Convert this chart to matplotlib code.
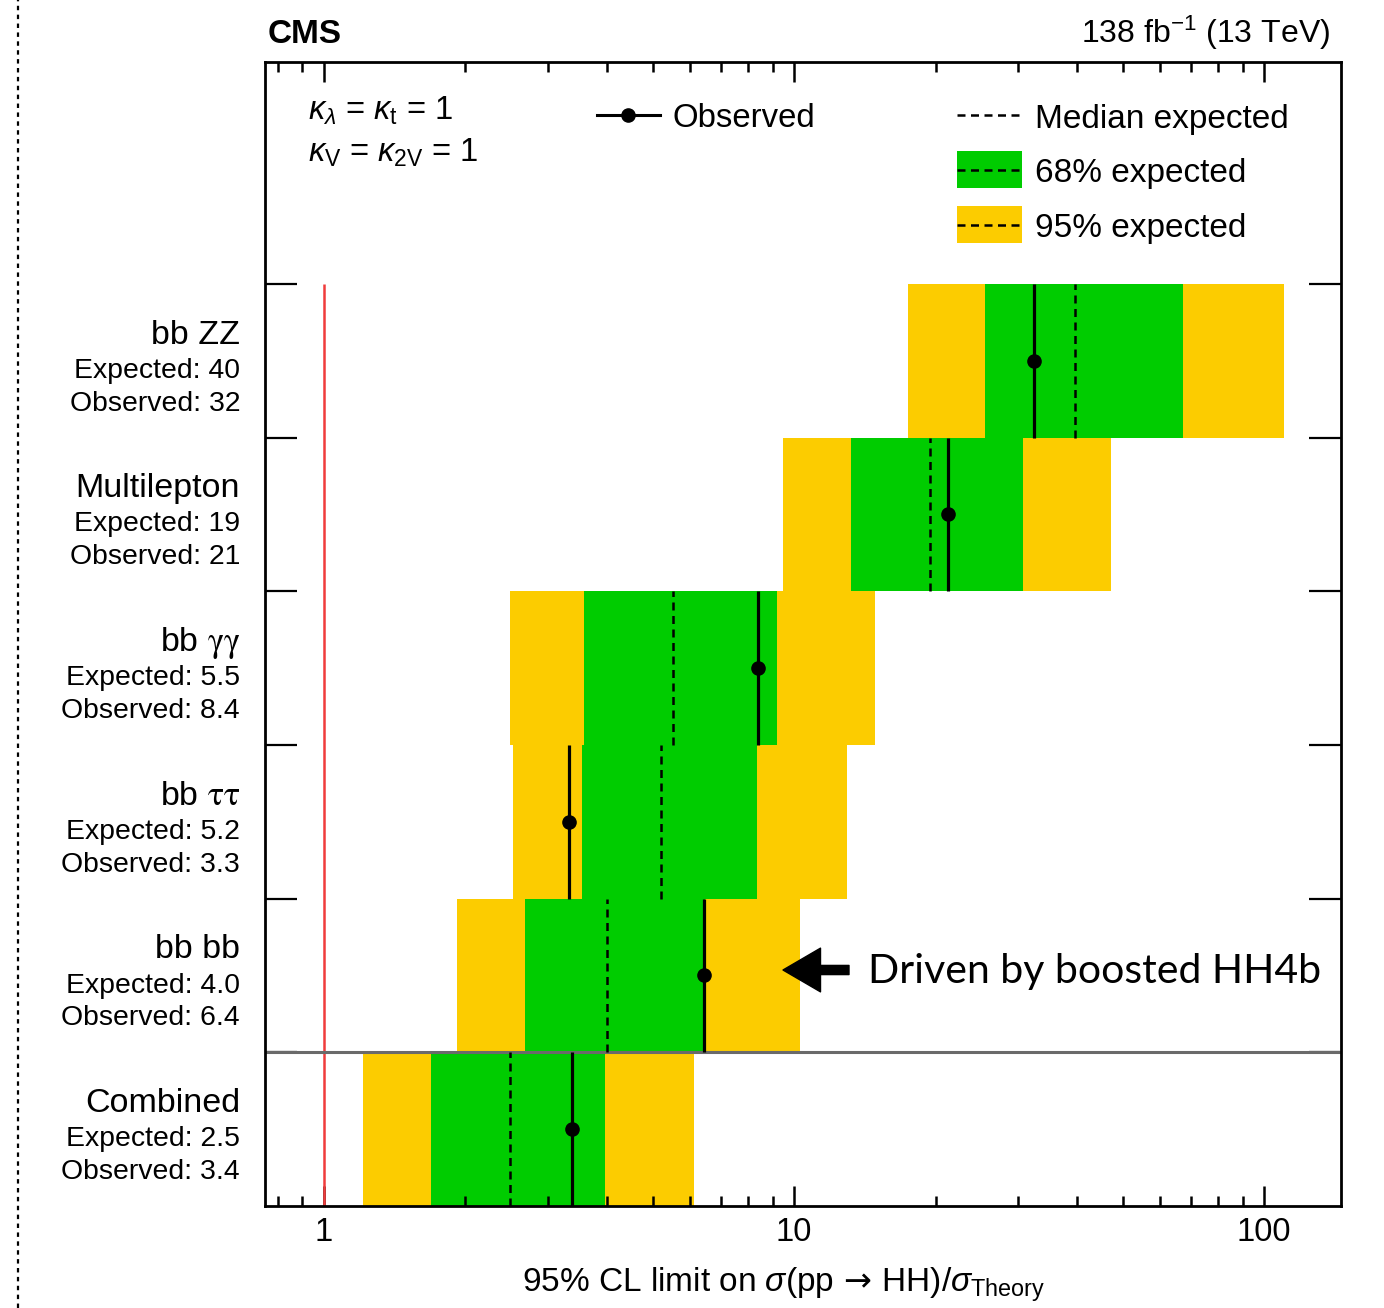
import numpy as np
import matplotlib
matplotlib.use('Agg')
import matplotlib.pyplot as plt
from matplotlib.lines import Line2D
from matplotlib.patches import Rectangle
from matplotlib.ticker import LogLocator, NullFormatter, FixedLocator, FixedFormatter

plt.rcParams['font.family'] = ['Liberation Sans', 'DejaVu Sans']
plt.rcParams['mathtext.fontset'] = 'custom'
plt.rcParams['mathtext.rm'] = 'Liberation Sans'
plt.rcParams['mathtext.it'] = 'Liberation Sans:italic'
plt.rcParams['mathtext.bf'] = 'Liberation Sans:bold'
plt.rcParams['mathtext.sf'] = 'DejaVu Sans'

# ---- data (bottom row first) ----
channels = ['Combined', 'bb bb', r'bb $\mathrm{\tau\tau}$', r'bb $\mathrm{\gamma\gamma}$', 'Multilepton', 'bb ZZ']
exp_median = [2.49, 4.00, 5.21, 5.53, 19.5, 39.6]
observed = [3.37, 6.43, 3.32, 8.38, 21.3, 32.4]
band68_lo = [1.69, 2.68, 3.54, 3.57, 13.2, 25.5]
band68_hi = [3.96, 6.47, 8.34, 9.20, 30.7, 67.2]
band95_lo = [1.21, 1.92, 2.52, 2.49, 9.48, 17.5]
band95_hi = [6.13, 10.3, 12.97, 14.9, 47.2, 110.3]
exp_labels = ['2.5', '4.0', '5.2', '5.5', '19', '40']
obs_labels = ['3.4', '6.4', '3.3', '8.4', '21', '32']
xtick_vals = [1, 10, 100]
xtick_labels = ['1', '10', '100']

GREEN = '#00CC00'
YELLOW = '#FCCC00'

W, H = 1384, 1308
fig = plt.figure(figsize=(W / 100, H / 100), dpi=100)
ax = fig.add_axes([265 / W, 1 - 1206 / H, (1341 - 265) / W, (1206 - 62) / H])
ax.set_xscale('log')
ax.set_xlim(0.749, 145.8)
ax.set_ylim(0, 7.444)

n = len(channels)
rows = np.arange(n)
lo95 = np.array(band95_lo); hi95 = np.array(band95_hi)
lo68 = np.array(band68_lo); hi68 = np.array(band68_hi)
ax.barh(rows + 0.5, hi95 - lo95, left=lo95, height=1.0, color=YELLOW, linewidth=0, zorder=1)
ax.barh(rows + 0.5, hi68 - lo68, left=lo68, height=1.0, color=GREEN, linewidth=0, zorder=1.1)
ax.vlines(exp_median, rows, rows + 1, colors='black', linestyles=(0, (3.2, 2.2)), linewidth=1.8, zorder=3)
ax.vlines(observed, rows, rows + 1, colors='black', linewidth=2.3, zorder=3)
ax.plot(observed, rows + 0.5, 'o', color='black', markersize=9.5, zorder=4, linestyle='none')

# reference line at 1 and separator
ax.vlines(1, 0, n, colors='#F03C3C', linewidth=1.8, zorder=2)
ax.axhline(1, color='#6A6A6A', linewidth=2.2, zorder=2)

# ticks
ax.xaxis.set_major_locator(FixedLocator(xtick_vals))
ax.xaxis.set_major_formatter(FixedFormatter(xtick_labels))
ax.xaxis.set_minor_locator(LogLocator(base=10, subs=np.arange(2, 10)))
ax.xaxis.set_minor_formatter(NullFormatter())
ax.tick_params(axis='x', which='major', direction='in', top=True, bottom=True,
               length=14.5, width=1.8, labelsize=23.5, pad=8)
ax.tick_params(axis='x', which='minor', direction='in', top=True, bottom=True,
               length=7.2, width=1.8)
ax.set_yticks(np.arange(1, n + 1))
ax.set_yticklabels([])
ax.tick_params(axis='y', which='major', direction='in', left=True, right=True,
               length=23, width=1.6)
ax.tick_params(axis='y', which='minor', left=False, right=False)
for s in ax.spines.values():
    s.set_linewidth(2.0)

# left labels
ytr = ax.get_yaxis_transform()
for i in range(n):
    c = i + 0.5
    ax.text(-0.0232, c + 0.111, channels[i], transform=ytr, ha='right', va='baseline',
            fontsize=24.5, math_fontfamily='stix')
    ax.text(-0.0232, c - 0.111, 'Expected: ' + exp_labels[i], transform=ytr, ha='right',
            va='baseline', fontsize=20.4)
    ax.text(-0.0232, c - 0.325, 'Observed: ' + obs_labels[i], transform=ytr, ha='right',
            va='baseline', fontsize=20.4)

# x label
fig.text(784 / W, 1 - 1292 / H,
         r'95% CL limit on $\sigma$(pp$\,\mathsf{\rightarrow}\,$HH)/$\sigma_{\mathrm{Theory}}$',
         ha='center', va='baseline', fontsize=24)

# top labels
fig.text(268 / W, 1 - 43 / H, 'CMS', fontweight='bold', fontsize=24, ha='left', va='baseline')
fig.text(1330 / W, 1 - 43 / H, r'138 fb$^{-1}$ (13 TeV)', fontsize=23, ha='right', va='baseline')

# legend (axes fraction)
tA = ax.transAxes
def fx(px):
    return (px - 265) / 1076
def fy(py):
    return (1206 - py) / 1144

ax.text(fx(308), fy(120), r'$\kappa_{\lambda}$ = $\kappa_{\mathrm{t}}$ = 1', transform=tA,
        fontsize=23.5, va='baseline', ha='left')
ax.text(fx(308), fy(162), r'$\kappa_{\mathrm{V}}$ = $\kappa_{\mathrm{2V}}$ = 1', transform=tA,
        fontsize=23.5, va='baseline', ha='left')

ax.add_line(Line2D([fx(597), fx(660)], [fy(115), fy(115)], transform=tA, color='black', lw=2.2))
ax.add_line(Line2D([fx(628.5)], [fy(115)], transform=tA, color='black', marker='o', markersize=9.5))
ax.text(fx(672), fy(127), 'Observed', transform=tA, fontsize=23.7, va='baseline')

ax.add_line(Line2D([fx(957), fx(1022)], [fy(115), fy(115)], transform=tA, color='black',
                   lw=1.8, linestyle=(0, (3.2, 2.2))))
ax.text(fx(1035), fy(128), 'Median expected', transform=tA, fontsize=24, va='baseline')

for (ytop, ybot, col, lab, base) in [(151, 188, GREEN, '68% expected', 182),
                                      (206, 243, YELLOW, '95% expected', 237)]:
    ax.add_patch(Rectangle((fx(957), fy(ybot)), fx(1022) - fx(957), fy(ytop) - fy(ybot),
                           transform=tA, facecolor=col, edgecolor='none'))
    ym = fy((ytop + ybot) / 2)
    ax.add_line(Line2D([fx(957), fx(1022)], [ym, ym], transform=tA, color='black',
                       lw=1.8, linestyle=(0, (3.2, 2.2))))
    ax.text(fx(1035), fy(base), lab, transform=tA, fontsize=24, va='baseline')

# annotation
ax.annotate('', xy=(fx(783), fy(970)), xytext=(fx(849), fy(970)), xycoords=tA, textcoords=tA,
            arrowprops=dict(arrowstyle='simple,head_length=0.9,head_width=1.05,tail_width=0.22',
                            mutation_scale=30, color='black', shrinkA=0, shrinkB=0))
ax.text(fx(868), fy(972), 'Driven by boosted HH4b', transform=tA, fontsize=29.5,
        family='Lato', va='center', ha='left')

# slide border dotted line
fig.add_artist(Line2D([18 / W, 18 / W], [0, 1], transform=fig.transFigure, color='black',
                      lw=1.6, linestyle=(0, (2, 2))))

fig.savefig('out.png', dpi=100)
